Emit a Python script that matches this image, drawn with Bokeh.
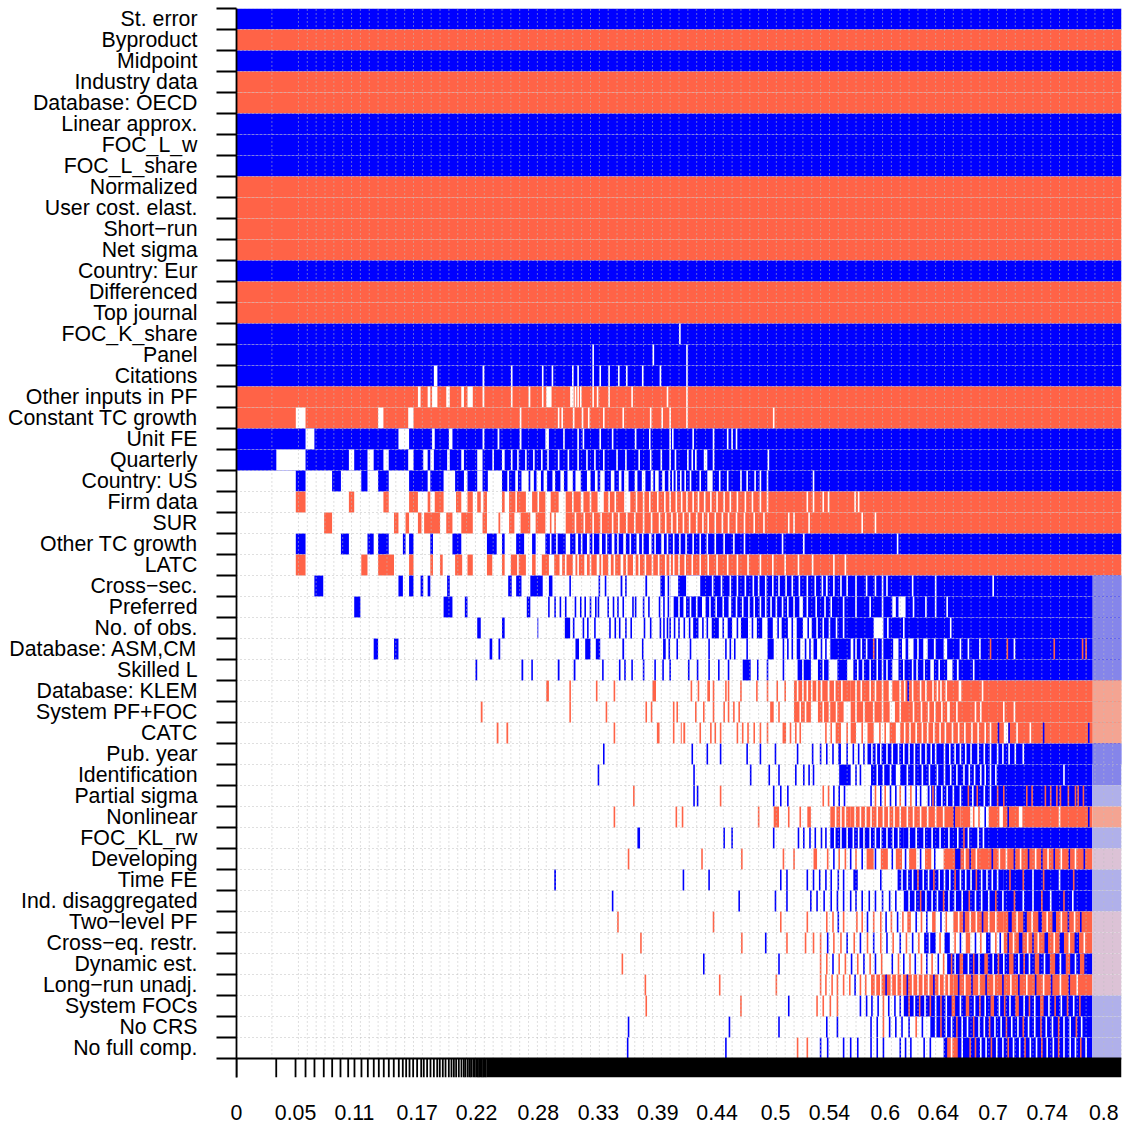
from bokeh.plotting import figure
from bokeh.models import FixedTicker, Range1d, ColumnDataSource
from bokeh.embed import file_html
from bokeh.resources import INLINE

# ---------------- data ----------------
# variables, top to bottom (ordered by posterior inclusion probability)
variables = [
    "St. error", "Byproduct", "Midpoint", "Industry data", "Database: OECD",
    "Linear approx.", "FOC_L_w", "FOC_L_share", "Normalized", "User cost. elast.",
    "Short\u2212run", "Net sigma", "Country: Eur", "Differenced", "Top journal",
    "FOC_K_share", "Panel", "Citations", "Other inputs in PF", "Constant TC growth",
    "Unit FE", "Quarterly", "Country: US", "Firm data", "SUR",
    "Other TC growth", "LATC", "Cross\u2212sec.", "Preferred", "No. of obs.",
    "Database: ASM,CM", "Skilled L", "Database: KLEM", "System PF+FOC", "CATC",
    "Pub. year", "Identification", "Partial sigma", "Nonlinear", "FOC_KL_rw",
    "Developing", "Time FE", "Ind. disaggregated", "Two\u2212level PF", "Cross\u2212eq. restr.",
    "Dynamic est.", "Long\u2212run unadj.", "System FOCs", "No CRS", "No full comp.",
]

# inclusion along the cumulative model probability axis (0..1):
# b = positive coef (blue), r = negative (red), w = excluded (white);
# B/L/R/P = the tail of tiny models (mixed, washed out); "a-b" range, single value = one narrow model
row_patterns = [
    "b0-1", "r0-1", "b0-1", "r0-1", "r0-1",
    "b0-1", "b0-1", "b0-1", "r0-1", "r0-1",
    "r0-1", "r0-1", "b0-1", "r0-1", "r0-1",
    "b0-1 w.501",
    "b0-1 w.403 w.471 w.509",
    "b0-1 w.223-.227 w.278-.280 w.311 w.346 w.357 w.380 w.386 w.403 w.411 w.421 w.432 w.441 w.459 w.479 w.509",
    "r0-1 w.205-.208 w.216-.219 w.221-.227 w.237-.241 w.254-.257 w.261-.267 w.278-.280 w.311 w.330-.332 w.346 "
    "w.350-.356 w.377-.381 w.383 w.386 w.389 w.403 w.408 w.421 w.447 w.487 w.509",
    "r0-1 w.067-.078 w.160-.166 w.194-.200 w.321 w.364 w.368 w.381 w.391 w.398 w.415 w.437 w.468 w.481 w.490 w.509 w.607",
    "b0-1 w.078-.088 w.183-.195 w.221-.224 w.240-.244 w.278-.280 w.295-.297 w.320-.322 w.349-.353 w.370 w.386 w.392 "
    "w.411 w.425 w.451 w.467 w.490 w.493 w.516 w.539 w.555 w.560 w.565",
    "b0-1 w.045-.078 w.127-.133 w.148-.155 w.166-.172 w.194-.200 w.211-.216 w.219-.223 w.238-.241 w.254-.257 "
    "w.272-.278 w.290 w.300-.303 w.311 w.318 w.327 w.336 w.345 w.352 w.364 w.375 w.386 w.396 w.405 w.415 w.430 "
    "w.440 w.455 w.468 w.480 w.490 w.496 w.510 w.515 w.519 w.528-.532 w.539 w.601",
    "b.067-.078 b.108-.118 b.141-.148 b.160-.172 b.195-.216 b.219-.234 b.247-.257 b.261-.272 b.278-.284 b.300-.306 "
    "b.308-.315 b.318-.322 b.330-.332 b.336-.339 b.344-.347 b.351-.357 b.360-.366 b.370-.374 b.380-.383 b.389-.396 "
    "b.400-.405 b.408-.411 b.416-.423 b.427-.432 b.435-.438 b.443-.450 b.453-.458 b.462-.468 b.471-.473 b.477-.481 "
    "b.484-.488 b.490-1 w.493 w.497 w.502 w.507 w.513 w.524 w.532-.538 w.546 w.555 w.570 w.577 w.586 w.592 w.600 w.652",
    "r.067-.078 r.127-.133 r.166-.172 r.195-.205 r.216-.219 r.224-.234 r.248-.254 r.261-.267 r.272-.276 r.279-.283 "
    "r.300-.303 r.308-.327 w.316 r.334-.349 w.341 r.355-.364 r.372-.389 w.380 r.392-.408 w.400 r.415-.438 w.421 w.428 "
    "r.445-1 w.452 w.460 w.467 w.476 w.484 w.490 w.497 w.503 w.509 w.516 w.522 w.529 w.536 w.543 w.551 w.558 w.566 "
    "w.575 w.583 w.592 w.600 w.645 w.652 w.663 w.669 w.699 w.703",
    "r.099-.108 r.178-.183 r.191-.195 r.205-.209 r.212-.230 r.237-.244 r.254-.267 r.278-.283 r.296-.298 r.308-.314 "
    "r.321-.332 r.338-.349 r.355 r.360 r.372-1 w.383 w.393 w.403 w.412 w.425 w.432 w.441 w.450 w.460 w.469 w.478 "
    "w.485 w.492 w.498 w.505 w.512 w.520 w.527 w.533 w.541 w.549 w.556 w.565 w.574 w.585 w.596 w.624 w.630 w.647 "
    "w.707 w.722",
    "b.067-.078 b.118-.127 b.148-.155 b.160-.172 b.188-.191 b.195-.200 b.219-.222 b.244-.254 b.283-.294 b.300-.303 "
    "b.316-.325 b.334-.338 b.349-.372 w.355 w.362 b.377-1 w.383-.386 w.390 w.396-.399 w.403 w.410-.413 w.418 "
    "w.424-.427 w.431 w.437-.440 w.445 w.452-.455 w.459 w.466-.469 w.473 w.480-.483 w.487 w.494 w.501 w.508 w.516 "
    "w.524 w.532 w.541 w.551 w.562 w.574 w.617 w.641 w.747",
    "r.067-.078 r.141-.148 r.160-.178 r.195-.200 r.219-.222 r.230-.233 r.247-.255 r.261-.267 r.283-.289 r.300-.303 "
    "r.310-.327 w.318 r.334-.338 r.345-.353 r.359-1 w.365-.368 w.372 w.380-.383 w.386 w.393-.396 w.400 w.407-.410 "
    "w.413 w.420-.423 w.427 w.434-.437 w.441 w.448-.451 w.455 w.462 w.470 w.477 w.485 w.490 w.494 w.500 w.507 w.515 "
    "w.524 w.533 w.543 w.555 w.566 w.578 w.592 w.606 w.620 w.635 w.651 w.675 w.688",
    "b.088-.098 b.183-.188 b.195-.200 b.208-.211 b.216-.219 b.238-.241 b.307-.311 b.316-.322 b.332-.346 b.353-.357 "
    "b.377 b.410 b.417 b.434-.436 b.440 b.462-.464 b.479-.484 b.488 b.490-1 w.490-.499 w.508-.524 w.538 w.548 w.558 "
    "w.566 w.575 w.584 w.590 w.598 w.606 w.613 w.621 w.628 w.636 w.645 w.654 w.662 w.666-.668 w.675 w.683 w.690 "
    "w.700 w.712 w.722 w.730 w.735 w.764 w.790 w.855 B.967-1",
    "b.133-.140 b.234-.244 b.258-.261 b.328-.332 b.353 b.360 b.366 b.372 b.383 b.389 b.394 b.400 b.406 b.409 b.420 "
    "b.426 b.431 b.437 b.448 b.451 b.460 b.466 b.478 b.483 b.488 b.490-1 w.490-.494 w.500 w.505-.508 w.513 w.520 "
    "w.526-.530 w.535 w.542 w.550 w.556-.559 w.565 w.572 w.579 w.585 w.592 w.598 w.604 w.610 w.617 w.623 w.630 "
    "w.636-.640 w.645 w.655 w.665 w.672 w.686 w.700 w.716 w.730 w.741-.745 w.748-.756 w.765 w.779 w.790 w.803 B.967-1",
    "b.272-.276 b.300-.303 b.340-.341 b.371-.377 b.381 b.392 b.397 b.405 b.422 b.428 b.433 b.440 b.446 b.461 b.468 "
    "b.479 b.483 b.487 b.490 b.495 b.500 b.506 b.512 b.516-.522 b.527 b.532 b.537-.545 b.550 b.555-.560 b.566 "
    "b.570-.578 b.583 b.588-.594 b.600-.606 b.612 b.616-.623 b.628 b.633-.640 b.646 b.650-1 w.656 w.663 w.670 w.678 "
    "w.686 w.720-.731 w.736 w.754 w.807 B.967-1",
    "b.155-.160 b.178-.183 b.286-.289 b.296-.298 b.383-.387 b.394-.400 b.406-.411 b.436-.438 b.459 b.482-.485 b.489 "
    "b.498 b.513 b.534 b.553 b.558 b.563 b.577 b.600-.607 b.618 b.623 b.628 b.633-.637 b.643 b.648 b.652-.656 b.661 "
    "b.666 b.671-.694 b.697-1 w.700 w.706 w.712 r.720 w.724 w.730 w.742-.748 w.752-.756 w.759-.765 w.770 "
    "w.776-.781 w.788-.790 w.799-.803 w.818 w.827 w.840 r.852 r.871 w.879 r.924 r.956 r.960 B.967-1",
    "b.270-.272 b.322-.324 b.334 b.363-.365 b.381-.383 b.414 b.433 b.439 b.447 b.460 b.473 b.482 b.490 b.511 b.521 "
    "b.534 b.545 b.556 b.572-.581 b.589 b.600 b.618 b.634-.649 w.640 b.657-.669 w.663 b.679-.690 b.697-1 w.702 w.708 "
    "w.716 w.724 w.730 w.735 w.741-.748 w.754 w.764 w.769 w.777 w.784-.788 w.794 w.803-.809 w.814-.816 w.833 B.967-1",
    "r.350-.353 r.377 r.407 r.427 r.470-.474 r.514 r.522 r.532-.535 r.539 r.553 r.556 r.570 r.588 r.600 r.611 r.620 "
    "r.630-.668 w.634 w.640 w.645 w.650 w.656 w.661 r.670-.694 w.676 w.684 r.694-1 w.700 w.706 w.716 w.722 w.730 "
    "w.737-.741 w.749-.751 w.755 w.764 w.773 w.779 w.787 w.792 w.796 w.802 w.816-.819 w.843 b.759 R.967-1",
    "r.276-.278 r.377 r.418 r.463 r.469 r.494 r.498 r.519 r.528 r.539 r.551 r.556 r.562 r.568 r.603-.607 r.613 "
    "r.630-.649 w.637 w.643 r.657-.686 w.663 w.670 w.678 r.694-1 w.700 w.709 w.720 w.730 w.738-.744 w.750 w.765 "
    "w.774 w.782 w.789 w.797 w.803-.806 w.814 w.835 w.841 w.867 w.879 R.967-1",
    "r.294-.296 r.305-.307 r.427 r.475-.478 r.494 r.502-.507 w.504 r.524 r.536 r.541 r.547 r.566 r.572 r.578 r.585 "
    "r.592 r.600 r.617-.621 r.626 r.632 r.637 r.666 r.672 r.677-.683 r.690 r.694-.700 r.707 r.713-.720 r.727 r.733 "
    "r.738-.745 r.750-1 w.755 w.761 w.768 w.775 w.781 w.788 w.795 w.801 w.809 w.816 w.823 w.831 w.838 w.846 w.852 "
    "b.861 w.867-.872 b.873 w.882 w.897 b.912 b.963 R.967-1",
    "b.415 b.515 b.532 b.547 b.577 b.592 b.609 b.634 b.651 b.660 b.667 b.674 b.680-.683 b.690 b.697 b.703 b.709 "
    "b.713-.796 w.718 w.723 w.728 w.735 w.741 w.748 w.754 w.760 w.766 w.773 w.779 w.785 w.790 b.796-1 w.800 w.806 "
    "w.812 w.818 w.824 w.830 w.838 w.845 w.852 w.860 w.866 w.873 w.880 w.889 B.967-1",
    "b.409 b.517 b.581 b.602 b.613 b.632 b.641 b.647 b.652 b.681-.694 b.700 b.705 b.717-.967 w.724 w.731 w.739 "
    "w.745-.750 w.758 w.766 w.775 w.783 w.792 w.800 w.807 w.814 w.822 w.828 w.834 w.841 w.846 w.852 w.858 w.935 "
    "B.967-1",
    "r.449 b.517 b.521 r.547 b.607 b.615 b.623 r.663 r.669 b.675 b.681 b.687 b.717 r.722 b.728 r.733 b.739 b.745 "
    "r.750 b.756 r.762 b.768 b.773 b.781-.967 w.784 r.787 w.790 w.797 w.803 w.810 w.818 r.827 w.832 r.837 w.845 "
    "w.852 r.860 r.867 r.893 r.899 r.914 r.920 r.927 r.931 r.940 r.948 r.951 r.957 L.967-1",
    "r.427 r.497 r.504 r.590 r.607-.613 r.624 r.637 r.645-.649 r.671-.694 w.677 w.683 w.688 r.694-.818 w.699 w.705 "
    "w.711 w.717 w.724 w.731 w.737 w.743 w.750 w.758 w.765 w.773 w.781 w.790 w.799 b.811 r.818-.829 r.833 w.836 "
    "r.839 b.846 r.850-.967 w.862-.866 b.872 w.884-.888 w.930 b.963 R.967-1",
    "b.453-.456 b.551 b.560 b.607 b.635 b.641 b.648 b.654 b.661 b.666 b.671-.754 w.676 w.683 w.690 w.697 w.703 "
    "w.709 w.716 w.722 w.728 w.735 w.742 w.748 b.754-.967 w.760 w.768 w.777 w.786 w.795 w.805 w.815 r.822 w.827 "
    "w.838 w.844 L.967-1",
    "r.443 r.526 r.571 r.618 r.630 r.652-.656 r.668 b.675 r.681 r.688 b.694 r.700 b.707 r.712-.720 b.722 r.728-.736 "
    "b.741 r.745-.752 b.756 r.760-.768 b.773 r.778-.785 b.789 r.799-.967 b.812-.818 w.823 b.829 w.836 b.854 w.862 "
    "w.870 b.879 w.886 b.895 w.903 b.910 w.917 b.924 w.932 b.941 w.948 b.958 P.967-1",
    "b.359-.361 b.505 b.534 b.615 b.622 b.645 b.652 b.659 b.666 b.672 b.680 b.686 b.697-.702 b.728 b.747-.867 w.752 "
    "w.758 w.764 r.770 w.776 w.782 r.788 w.794 w.800 w.806 r.812 w.818 w.824 w.830 r.836 w.842 w.848 w.854 w.860 "
    "b.867-.967 r.874 r.889 w.900 r.912 w.930 r.946 L.967-1",
    "b.425 b.568 b.609 b.622 b.649 b.656 b.664 b.672 b.679 b.686 b.694 b.700 b.707 b.715 b.722 b.730 b.738 b.745 "
    "b.754-.967 w.760 w.767 r.773 w.779 w.786 w.792 r.799 w.805 w.812 w.820 r.828 w.835 w.842 w.850 r.858 w.866 "
    "r.879 w.889 w.900 r.910 w.920 r.935 w.945 L.967-1",
    "r.431 r.539 r.615 r.645 r.667 r.674 b.680 r.686 r.701 r.707 b.713 r.720 r.728 b.734 r.740 b.747 r.753 "
    "r.758-.762 b.768 r.774 b.780 r.786-.790 b.796 r.802 r.810-.867 w.816 b.822 w.829 w.836 b.843 w.850 w.858 "
    "r.867-.967 b.872-.876 w.882 b.889-.893 w.899 b.906-.910 w.916 b.922-.926 w.932 b.940 w.947 b.954 P.967-1",
    "r.457 r.571 b.598 r.622 r.643 r.652 r.660 b.668 r.675 r.683 b.690 r.698 b.705 r.713 b.720 r.728 b.735 r.742 "
    "b.750 r.757 b.764 r.771 b.777-.790 w.783 r.795 b.800-.806 r.812 b.818 r.824-.829 b.835 r.841 b.847-.852 r.858 "
    "b.863 r.867-.967 b.872 w.878 b.884-.888 w.894 b.900 w.906 b.913-.917 w.924 b.930-.935 w.941 b.947-.952 w.958 "
    "P.967-1",
    "r.436 b.528 b.613 r.660 r.667 b.674 r.681 r.688 b.695 r.702 b.709 r.716 b.722 r.729 b.741 r.748 b.754 r.761 "
    "b.767 r.774 b.780 r.786 b.793 r.799 b.803-.967 r.808 w.812 r.817-.821 w.827 r.833 w.839 r.845-.849 w.855 r.861 "
    "w.867 r.873-.878 w.884 r.890 w.896 r.902-.907 w.913 r.919-.925 w.931 r.937-.942 w.948 r.953-.958 P.967-1",
    "r.462 r.546 r.610 r.660 r.666 r.673 r.679 r.686 r.693 b.699 r.705 r.711 r.717-.810 w.722 w.728 b.734 w.740 "
    "w.746 w.752 b.758 w.764 w.770 w.776 w.782 b.788 w.794 w.800 w.805 r.810-.967 b.816 w.823 b.831 w.839 b.847 "
    "w.856 b.866 w.875 b.884 w.893 b.903 w.912 b.921 w.931 b.941 w.950 P.967-1",
    "r.463 r.570 b.624 r.656 r.663 r.671 r.679 b.705 b.712 b.718 b.725 r.731 b.737 b.744 b.750 b.754-.967 r.760 "
    "w.766 r.772 w.778 r.784 w.790 r.796 w.802 r.808-.812 w.818 r.824-.828 w.834 r.840 w.846 r.852-.856 w.862 r.868 "
    "w.874 r.880-.884 w.890 r.896 w.902 r.908-.912 w.918 r.925 w.932 r.939 w.946 r.953 L.967-1",
    "b.443 b.557 b.613 b.667 b.679 b.717 b.724 r.731 b.738 b.745 b.752 b.760 r.768 b.775 b.784-.967 w.790 r.796 "
    "w.802 w.808 r.814 w.820 w.826 r.833 w.839 w.845 r.851 w.857 w.864 r.870 w.876 w.883 r.889 w.895 w.902 r.909 "
    "w.915 w.922 r.929 w.935 w.942 r.949 w.955 L.967-1",
    "b.442 b.553 r.634 r.645 b.660 b.668 b.686 b.694 b.702 b.717 b.724 b.731 b.750 b.756 b.762 b.777 b.784 "
    "b.799-.967 r.803-.815 w.808 w.820 r.829 r.835 w.841 w.847 r.853 w.859 w.866 r.872 w.878 w.885 r.891 w.897 "
    "w.904 r.910 w.916 w.923 r.929 w.935 w.942 w.948 r.954 w.960 L.967-1",
]

# boundaries of the best models (cumulative, normalised to 1) where they can be told apart
model_bounds = [0, .0449, .0667, .0780, .0881, .0986, .1081, .1175, .1262, .1333, .1412, .1484,
                .1551, .1608, .1664, .1721, .1777, .1834, .1879, .1917, .1955, .1996, .2041,
                .2087, .2116, .2154, .2192, .2230, .2268, .2297, .2331, .2362, .2399, .2429,
                .2456, .2482, .2512, .2542, .2569, .2588, .2614, .2636, .2652, .2675, .2693,
                .2712, .2727, .2742, .2757, .2772, .2788, .2802, .2817]
dense_bounds_start = 0.2825   # from here on, model boundaries merge into a solid band

# x-axis labels (cumulative model probabilities)
x_tick_pos = [0, .0667, .1333, .2041, .2712, .341, .409, .476, .543, .609, .670, .733, .793, .855, .916, .980]
x_tick_labels = ["0", "0.05", "0.11", "0.17", "0.22", "0.28", "0.33", "0.39", "0.44", "0.5",
                 "0.54", "0.6", "0.64", "0.7", "0.74", "0.8"]

# ---------------- styling ----------------
COLORS = {"b": "#0000FF", "r": "#FF6347", "w": "#FFFFFF",
          "B": "#8585EA", "L": "#B0B0EA", "R": "#F4A492", "P": "#DCC2D6"}
THIN = 0.0018
TICK_BAND = 0.905
K = len(variables)
FONT = "Liberation Sans"
FONT_SIZE = "21.3px"

left, right, top, bottom, color = [], [], [], [], []
for i, pat in enumerate(row_patterns):
    y_top = K - i
    for tok in pat.split():
        code, rng = tok[0], tok[1:]
        if "-" in rng:
            a, b = (float(v) for v in rng.split("-"))
        else:
            v = float(rng)
            a, b = v - THIN / 2, v + THIN / 2
        left.append(a); right.append(b)
        top.append(y_top); bottom.append(y_top - 1)
        color.append(COLORS[code])

p = figure(x_range=Range1d(0, 1), y_range=Range1d(-TICK_BAND, K),
           frame_width=885, frame_height=1069,
           min_border_left=236, min_border_right=5, min_border_top=8, min_border_bottom=0,
           output_backend="svg", toolbar_location=None)
p.xgrid.visible = False
p.ygrid.visible = False
p.outline_line_color = None
p.background_fill_color = "white"

src = ColumnDataSource(dict(left=left, right=right, top=top, bottom=bottom, color=color))
p.quad(left="left", right="right", top="top", bottom="bottom", fill_color="color",
       line_color=None, source=src)

# dotted grid at rounded model boundaries and at row boundaries
vgrid = sorted(set(round(b, 2) for b in model_bounds) | {k / 100 for k in range(28, 101)})
p.segment(x0=vgrid, y0=[0] * len(vgrid), x1=vgrid, y1=[K] * len(vgrid),
          line_color="#BEBEBE", line_width=1, line_dash="1 3")
hgrid = list(range(0, K + 1))
p.segment(x0=[0] * len(hgrid), y0=hgrid, x1=[1] * len(hgrid), y1=hgrid,
          line_color="#BEBEBE", line_width=1, line_dash="1 3")

# model-boundary ticks under the image
p.segment(x0=model_bounds, y0=[0] * len(model_bounds), x1=model_bounds,
          y1=[-TICK_BAND] * len(model_bounds), line_color="black", line_width=1.8)
p.quad(left=[dense_bounds_start], right=[1], top=[0], bottom=[-TICK_BAND],
       fill_color="black", line_color=None)
p.segment(x0=[0], y0=[0], x1=[1], y1=[0], line_color="black", line_width=1.8)

# y axis: ticks at row boundaries, labels at row centres
ya = p.yaxis[0]
centres = [K - i - 0.5 for i in range(K)]
ya.ticker = FixedTicker(ticks=centres, minor_ticks=hgrid)
ya.major_label_overrides = {c: v for c, v in zip(centres, variables)}
ya.major_tick_in = 0
ya.major_tick_out = 0
ya.major_tick_line_color = None
ya.minor_tick_in = 0
ya.minor_tick_out = 20
ya.minor_tick_line_color = "black"
ya.minor_tick_line_width = 1.8
ya.axis_line_color = "black"
ya.axis_line_width = 1.8
ya.major_label_standoff = 19
ya.major_label_text_font = FONT
ya.major_label_text_font_size = FONT_SIZE
ya.major_label_text_color = "black"

xa = p.xaxis[0]
xa.ticker = FixedTicker(ticks=x_tick_pos, minor_ticks=[])
xa.major_label_overrides = {c: v for c, v in zip(x_tick_pos, x_tick_labels)}
xa.axis_line_color = None
xa.major_tick_line_color = None
xa.minor_tick_line_color = None
xa.major_tick_in = 0
xa.major_tick_out = 0
xa.major_label_standoff = 27
xa.major_label_text_font = FONT
xa.major_label_text_font_size = FONT_SIZE
xa.major_label_text_color = "black"

open("out.html", "w").write(file_html(p, INLINE))
